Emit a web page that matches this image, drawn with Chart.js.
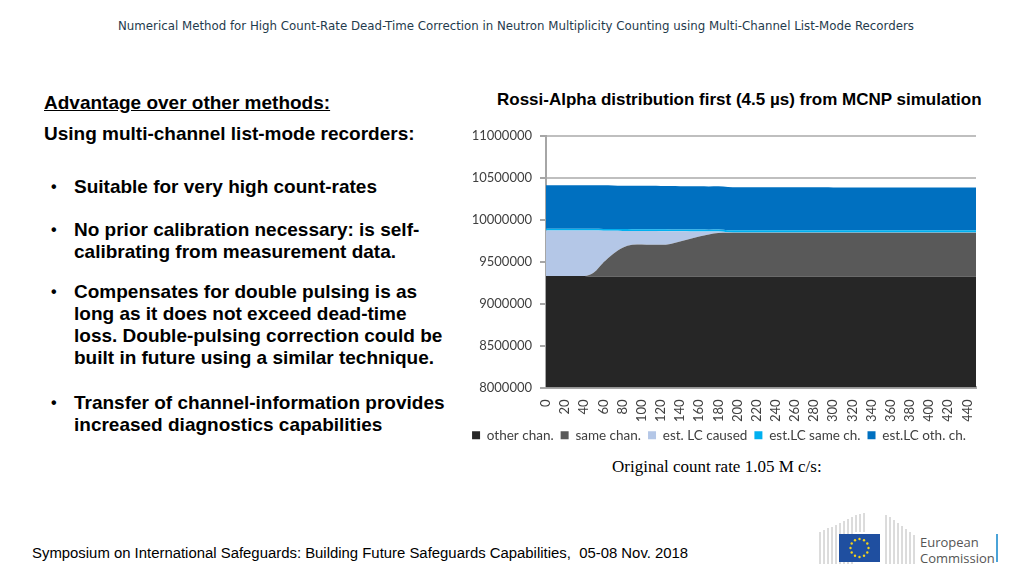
<!DOCTYPE html>
<html>
<head>
<meta charset="utf-8">
<script src="https://cdn.jsdelivr.net/npm/chart.js@4.4.0/dist/chart.umd.min.js"></script>
<style>
  html, body { margin: 0; padding: 0; background: #fff; }
  body { width: 1024px; height: 576px; position: relative; overflow: hidden; font-family: "Liberation Sans", Arial, sans-serif; }
  .header { position: absolute; top: 19px; left: 0; width: 1032px; text-align: center; font-family: "DejaVu Sans", Verdana, sans-serif; font-size: 11.8px; color: #1f3b4d; }
  .left { position: absolute; left: 44px; top: 92px; width: 420px; font-weight: bold; color: #000; font-size: 19px; }
  .left .h1 { text-decoration: underline; }
  .left .h2 { margin-top: 9px; }
  .left ul { list-style: none; margin: 0; padding: 0; }
  .left li { position: relative; padding-left: 30px; line-height: 22px; white-space: nowrap; }
  .left li::before { content: "\2022"; position: absolute; left: 7px; font-size: 16px; }
  .chart-title { position: absolute; left: 497px; top: 90px; font-weight: bold; font-size: 17px; color: #000; }
  .chart-box { position: absolute; left: 462px; top: 120px; width: 540px; height: 332px; }
  .caption { position: absolute; left: 612px; top: 457px; font-family: "Liberation Serif", "Times New Roman", serif; font-size: 17px; color: #000; }
  .footer { position: absolute; left: 32px; top: 545px; font-family: "Liberation Sans Narrow", "Liberation Sans", Arial, sans-serif; font-size: 14.9px; color: #000; }
  .logo { position: absolute; left: 818px; top: 512px; }
</style>
</head>
<body>
<div class="header">Numerical Method for High Count-Rate Dead-Time Correction in Neutron Multiplicity Counting using Multi-Channel List-Mode Recorders</div>

<div class="left">
  <div class="h1">Advantage over other methods:</div>
  <div class="h2">Using multi-channel list-mode recorders:</div>
  <ul>
    <li style="margin-top:31px">Suitable for very high count-rates</li>
    <li style="margin-top:21px">No prior calibration necessary: is self-<br>calibrating from measurement data.</li>
    <li style="margin-top:18px">Compensates for double pulsing is as<br>long as it does not exceed dead-time<br>loss. Double-pulsing correction could be<br>built in future using a similar technique.</li>
    <li style="margin-top:23px">Transfer of channel-information provides<br>increased diagnostics capabilities</li>
  </ul>
</div>

<div class="chart-title">Rossi-Alpha distribution first (4.5 µs) from MCNP simulation</div>
<div class="chart-box"><canvas id="rossiChart"></canvas></div>
<div class="caption">Original count rate 1.05 M c/s:</div>
<div class="footer">Symposium on International Safeguards: Building Future Safeguards Capabilities,&nbsp; 05-08 Nov. 2018</div>

<svg class="logo" width="185" height="56" viewBox="0 0 185 56">
  <g stroke="#b8b8b8" stroke-width="1">
    <line x1="2" y1="20" x2="2" y2="52"/><line x1="6" y1="18" x2="6" y2="52"/><line x1="10" y1="16" x2="10" y2="52"/>
    <line x1="14" y1="15" x2="14" y2="52"/><line x1="18" y1="13" x2="18" y2="52"/><line x1="22" y1="11" x2="22" y2="52"/>
    <line x1="26" y1="9" x2="26" y2="52"/><line x1="30" y1="7" x2="30" y2="52"/><line x1="34" y1="5" x2="34" y2="52"/>
    <line x1="38" y1="3" x2="38" y2="20"/><line x1="42" y1="2" x2="42" y2="20"/><line x1="46" y1="1" x2="46" y2="20"/>
    <line x1="68" y1="3" x2="68" y2="52"/><line x1="72" y1="5" x2="72" y2="52"/><line x1="76" y1="8" x2="76" y2="52"/>
    <line x1="80" y1="11" x2="80" y2="52"/><line x1="84" y1="14" x2="84" y2="52"/><line x1="88" y1="17" x2="88" y2="52"/>
    <line x1="92" y1="20" x2="92" y2="52"/><line x1="96" y1="23" x2="96" y2="52"/>
  </g>
  <rect x="21" y="22" width="41" height="28" fill="#1f4fa0"/>
  <g fill="#f3d21b">
    <circle cx="41.5" cy="27" r="1.2"/><circle cx="46" cy="28.2" r="1.2"/><circle cx="49.3" cy="31.5" r="1.2"/>
    <circle cx="50.5" cy="36" r="1.2"/><circle cx="49.3" cy="40.5" r="1.2"/><circle cx="46" cy="43.8" r="1.2"/>
    <circle cx="41.5" cy="45" r="1.2"/><circle cx="37" cy="43.8" r="1.2"/><circle cx="33.7" cy="40.5" r="1.2"/>
    <circle cx="32.5" cy="36" r="1.2"/><circle cx="33.7" cy="31.5" r="1.2"/><circle cx="37" cy="28.2" r="1.2"/>
  </g>
  <text x="102" y="35" font-family="Open Sans, Liberation Sans, sans-serif" font-size="13" fill="#555">European</text>
  <text x="102" y="51" font-family="Open Sans, Liberation Sans, sans-serif" font-size="13" fill="#555">Commission</text>
  <rect x="178" y="22" width="2" height="28" fill="#4aa3d8"/>
</svg>

<script>
// time bin (x) positions, every 10 bins
const binPos = [0, 10, 20, 30, 40, 50, 60, 70, 80, 90, 100, 110, 120, 130, 140, 150, 160, 170, 180, 190,
                200, 210, 220, 230, 240, 250, 260, 270, 280, 290, 300, 310, 320, 330, 340, 350, 360, 370,
                380, 390, 400, 410, 420, 430, 440, 449];
const xTickLabels = [0, 20, 40, 60, 80, 100, 120, 140, 160, 180, 200, 220, 240, 260, 280, 300, 320, 340,
                     360, 380, 400, 420, 440];
const yTicks = [8000000, 8500000, 9000000, 9500000, 10000000, 10500000, 11000000];

// stacked series (each value is the layer thickness)
const otherChan = [9330000, 9330000, 9330000, 9330000, 9330000, 9320000, 9320000, 9320000, 9320000, 9320000,
                   9320000, 9320000, 9320000, 9320000, 9320000, 9320000, 9320000, 9320000, 9320000, 9320000,
                   9320000, 9320000, 9320000, 9320000, 9320000, 9320000, 9320000, 9320000, 9320000, 9320000,
                   9320000, 9320000, 9320000, 9320000, 9320000, 9320000, 9320000, 9320000, 9320000, 9320000,
                   9320000, 9320000, 9320000, 9320000, 9320000, 9320000];
const sameChan = [0, 0, 0, 0, 0, 50000, 170000, 270000, 345000, 380000,
                  385000, 380000, 380000, 390000, 420000, 450000, 480000, 505000, 522000, 525000,
                  525000, 525000, 525000, 525000, 525000, 525000, 525000, 525000, 525000, 525000,
                  525000, 525000, 525000, 525000, 525000, 525000, 525000, 525000, 525000, 525000,
                  525000, 525000, 525000, 525000, 525000, 525000];
const estLcCaused = [540000, 540000, 540000, 540000, 540000, 500000, 378000, 277000, 201000, 165000,
                     160000, 164000, 163000, 152000, 121000, 90000, 60000, 34000, 17000, 5000,
                     3000, 3000, 3000, 3000, 3000, 3000, 3000, 3000, 3000, 3000,
                     3000, 3000, 3000, 3000, 3000, 3000, 3000, 3000, 3000, 3000,
                     3000, 3000, 3000, 3000, 3000, 3000];
const estLcSame = [22000, 22000, 22000, 22000, 22000, 22000, 22000, 22000, 22000, 22000,
                   22000, 22000, 22000, 22000, 22000, 22000, 22000, 22000, 24000, 25000,
                   25000, 25000, 25000, 25000, 25000, 25000, 25000, 25000, 25000, 25000,
                   25000, 25000, 25000, 25000, 25000, 25000, 25000, 25000, 25000, 25000,
                   25000, 25000, 25000, 25000, 25000, 25000];
const estLcOth = [520000, 520000, 520000, 520000, 520000, 520000, 520000, 520000, 518000, 518000,
                  518000, 518000, 517000, 517000, 517000, 516000, 516000, 516000, 515000, 515000,
                  515000, 515000, 515000, 514000, 514000, 514000, 513000, 513000, 513000, 513000,
                  512000, 512000, 512000, 512000, 511000, 511000, 511000, 510000, 510000, 510000,
                  510000, 510000, 510000, 510000, 510000, 510000];

const seriesNames = ['other chan.', 'same chan.', 'est. LC caused', 'est.LC same ch.', 'est.LC oth. ch.'];
const seriesColors = ['#262626', '#595959', '#b4c7e7', '#00b0f0', '#0070c0'];

function toPoints(values) {
    return values.map((v, i) => ({ x: binPos[i], y: v }));
}

function initChart() {
    const ctx = document.getElementById('rossiChart').getContext('2d');
    const allSeries = [otherChan, sameChan, estLcCaused, estLcSame, estLcOth];

    new Chart(ctx, {
        type: 'line',
        data: {
            datasets: allSeries.map((vals, i) => ({
                label: seriesNames[i],
                data: toPoints(vals),
                borderColor: seriesColors[i],
                backgroundColor: seriesColors[i],
                borderWidth: 0,
                pointRadius: 0,
                fill: i === 0 ? 'start' : '-1',
                cubicInterpolationMode: 'monotone'
            }))
        },
        options: {
            responsive: true,
            maintainAspectRatio: false,
            animation: false,
            layout: {
                padding: { top: 15, right: 26, left: 0, bottom: 0 }
            },
            plugins: {
                tooltip: { enabled: false },
                legend: {
                    position: 'bottom',
                    labels: {
                        boxWidth: 8,
                        boxHeight: 8,
                        padding: 7,
                        color: '#404040',
                        font: { family: 'Lato', size: 13.5 }
                    }
                }
            },
            scales: {
                x: {
                    type: 'linear',
                    min: 0,
                    max: 449,
                    grid: { display: false },
                    border: { display: true, color: '#a6a6a6', width: 3 },
                    afterBuildTicks: (s) => { s.ticks = xTickLabels.map(v => ({ value: v })); },
                    afterFit: (s) => { s.height = 34; },
                    ticks: {
                        autoSkip: false,
                        minRotation: 90,
                        maxRotation: 90,
                        color: '#404040',
                        padding: 4,
                        font: { family: 'Lato', size: 13 },
                        callback: (v) => String(v)
                    }
                },
                y: {
                    stacked: true,
                    min: yTicks[0],
                    max: yTicks[yTicks.length - 1],
                    afterFit: (s) => { s.width = 84; },
                    afterBuildTicks: (s) => { s.ticks = yTicks.map(v => ({ value: v })); },
                    grid: { color: '#bfbfbf', lineWidth: 2, tickLength: 6, tickColor: '#a6a6a6' },
                    border: { display: true, color: '#a6a6a6', width: 2 },
                    ticks: {
                        color: '#404040',
                        padding: 8,
                        font: { family: 'Lato', size: 13 },
                        callback: (v) => String(v)
                    }
                }
            }
        }
    });
}

document.addEventListener('DOMContentLoaded', initChart);
</script>
</body>
</html>
